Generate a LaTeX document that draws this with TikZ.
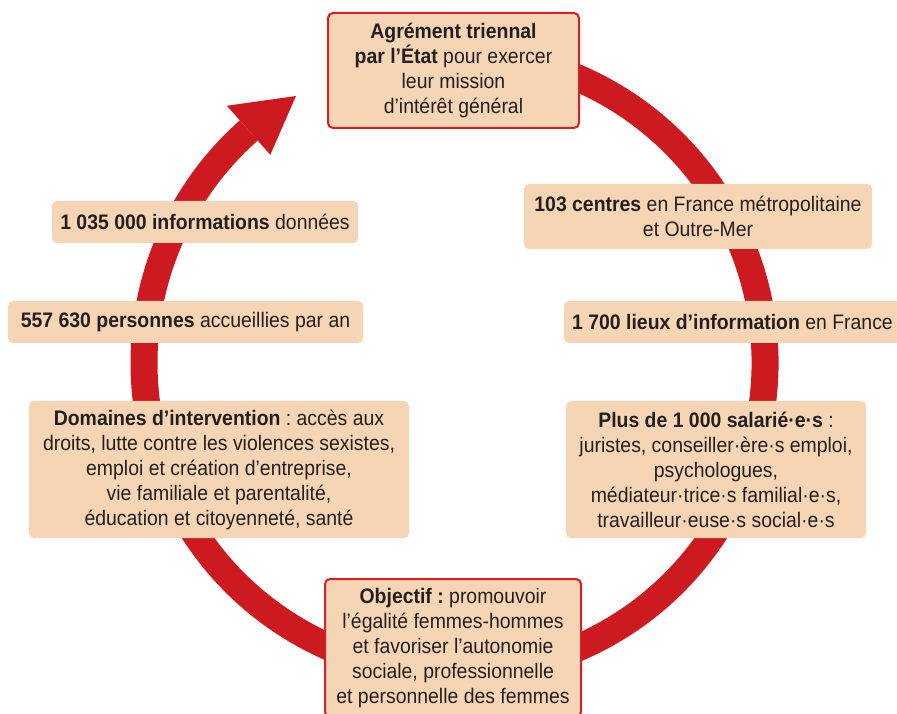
\documentclass[tikz,border=0pt]{standalone}
\usepackage{fontspec}
\setmainfont{Liberation Sans}[FakeStretch=0.925]
\frenchspacing
\definecolor{peach}{HTML}{F5D5B3}
\definecolor{ringred}{HTML}{CD1A20}
\definecolor{boxred}{HTML}{D42027}
\definecolor{txt}{HTML}{231F20}
\begin{document}
\begin{tikzpicture}[x=1pt,y=1pt,
  box/.style={fill=peach, rounded corners=5pt, inner sep=0pt, align=center, text=txt,
    font=\fontsize{21}{25}\selectfont},
  redbox/.style={box, draw=boxred, line width=2pt},
  ring/.style={draw=ringred, line width=27pt}]
\clip (0,0) rectangle (897,713);
\coordinate (C) at (454.5,350);
% ring with arrow
\draw[ring, shift={(C)}] (112:310.5) arc[start angle=112, end angle=-228.5, radius=310.5];
\fill[ringred, shift={(C)}] (120.7:310.5) -- (131.5:343.5) -- (131.5:278) -- cycle;
% boxes
\node[redbox, minimum width=251, minimum height=115] (agrement) at (453.5,642.5)
  {\textbf{Agrément triennal}\\ \textbf{par l’État} pour exercer\\ leur mission\\ d’intérêt général};
\node[box, minimum width=306, minimum height=42] (infos) at (205,491)
  {\textbf{1 035 000 informations} données};
\node[box, minimum width=355, minimum height=42] (personnes) at (185.5,391)
  {\textbf{557 630 personnes} accueillies par an};
\node[box, minimum width=348, minimum height=65] (centres) at (698,496.5)
  {\textbf{103 centres} en France métropolitaine\\ et Outre-Mer};
\node[box, minimum width=337, minimum height=42] (lieux) at (732.5,391)
  {\textbf{1 700 lieux d’information} en France};
\node[box, minimum width=380, minimum height=137] (domaines) at (219,243.5)
  {\textbf{Domaines d’intervention} : accès aux\\ droits, lutte contre les violences sexistes,\\ emploi et création d’entreprise,\\ vie familiale et parentalité,\\ éducation et citoyenneté, santé};
\node[box, minimum width=300, minimum height=137] (salaries) at (716,243.5)
  {\textbf{Plus de 1 000 salarié·e·s} :\\ juristes, conseiller·ère·s emploi,\\ psychologues,\\ médiateur·trice·s familial·e·s,\\ travailleur·euse·s social·e·s};
\node[redbox, minimum width=256, minimum height=138] (objectif) at (453,65)
  {\textbf{Objectif :} promouvoir\\ l’égalité femmes-hommes\\ et favoriser l’autonomie\\ sociale, professionnelle\\ et personnelle des femmes};
\end{tikzpicture}
\end{document}
